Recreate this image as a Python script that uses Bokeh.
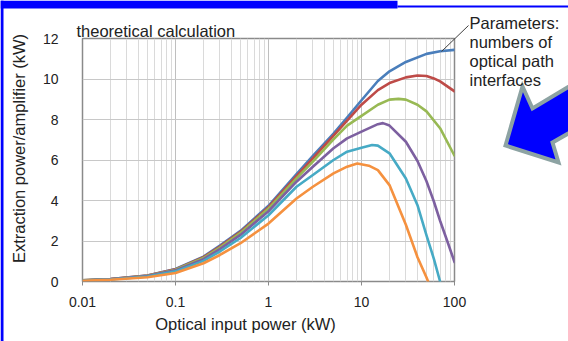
import math
from bokeh.plotting import figure
from bokeh.models import FixedTicker, CustomJSTickFormatter, Range1d, GridBox
from bokeh.core.properties import value
from bokeh.embed import file_html
from bokeh.resources import INLINE

# ---- data ----
x_ticks = [0.01, 0.1, 1, 10, 100]
y_ticks = [0, 2, 4, 6, 8, 10, 12]

blue_x = [0.01, 0.02, 0.05, 0.1, 0.2, 0.3, 0.5, 1, 2, 3, 5, 7, 10, 15, 20, 30, 50, 70, 100]
blue_y = [0.06, 0.12, 0.30, 0.62, 1.23, 1.77, 2.50, 3.74, 5.30, 6.20, 7.30, 8.10, 8.95, 9.90, 10.38, 10.84, 11.24, 11.37, 11.44]

red_x = [0.01, 0.02, 0.05, 0.1, 0.2, 0.3, 0.5, 1, 2, 3, 5, 7, 10, 15, 20, 30, 40, 50, 60, 70, 100]
red_y = [0.06, 0.12, 0.29, 0.60, 1.20, 1.73, 2.45, 3.67, 5.20, 6.08, 7.20, 7.95, 8.73, 9.45, 9.80, 10.08, 10.17, 10.15, 10.03, 9.88, 9.39]

green_x = [0.01, 0.02, 0.05, 0.1, 0.2, 0.3, 0.5, 1, 2, 3, 5, 7, 10, 15, 20, 25, 30, 40, 50, 70, 100]
green_y = [0.06, 0.11, 0.28, 0.58, 1.16, 1.68, 2.40, 3.60, 5.09, 5.92, 7.02, 7.70, 8.18, 8.73, 8.98, 9.02, 8.98, 8.73, 8.40, 7.57, 6.21]

purple_x = [0.01, 0.02, 0.05, 0.1, 0.2, 0.3, 0.5, 1, 2, 3, 5, 7, 10, 15, 17, 20, 30, 40, 50, 60, 70, 85, 100]
purple_y = [0.05, 0.11, 0.27, 0.55, 1.10, 1.60, 2.30, 3.47, 4.93, 5.67, 6.58, 7.07, 7.40, 7.77, 7.82, 7.70, 6.90, 5.95, 4.95, 3.95, 3.00, 1.90, 0.96]

cyan_x = [0.01, 0.02, 0.05, 0.1, 0.2, 0.3, 0.5, 1, 2, 3, 5, 7, 10, 13, 15, 20, 30, 40, 50, 60, 70]
cyan_y = [0.05, 0.10, 0.25, 0.50, 1.02, 1.48, 2.15, 3.27, 4.68, 5.26, 6.00, 6.41, 6.60, 6.74, 6.71, 6.33, 5.09, 3.77, 2.28, 1.12, 0.0]

orange_x = [0.01, 0.02, 0.05, 0.1, 0.2, 0.3, 0.5, 1, 2, 3, 5, 7, 9, 12, 15, 20, 30, 40, 50, 52]
orange_y = [0.04, 0.09, 0.21, 0.42, 0.90, 1.31, 1.89, 2.86, 4.10, 4.68, 5.34, 5.67, 5.83, 5.72, 5.50, 4.76, 2.80, 1.20, 0.20, 0.0]

series = [
    (blue_x, blue_y, "#4A7EBB"),
    (red_x, red_y, "#BE4B48"),
    (green_x, green_y, "#98B954"),
    (purple_x, purple_y, "#7D60A0"),
    (cyan_x, cyan_y, "#46AAC5"),
    (orange_x, orange_y, "#F5913F"),
]

title_text = "theoretical calculation"
x_title = "Optical input power (kW)"
y_title = "Extraction power/amplifier (kW)"
note_lines = ["Parameters:", "numbers of", "optical path", "interfaces"]

FONT = "Liberation Sans"
W, H = 568, 341

# ---- chart ----
p = figure(width=W, height=H, x_axis_type="log", title=None,
           x_range=Range1d(0.01, 100), y_range=Range1d(0, 12),
           output_backend="svg", toolbar_location=None,
           min_border_left=82, min_border_right=114, min_border_top=38, min_border_bottom=60)
p.frame_align = False
p.background_fill_color = "white"
p.border_fill_color = "white"
p.outline_line_color = "#8A8A8A"
p.outline_line_width = 1.5

minor = [m * d for d in [0.01, 0.1, 1, 10] for m in range(2, 10)]
xt = FixedTicker(ticks=x_ticks, minor_ticks=minor)
p.xaxis.ticker = xt
p.xgrid.ticker = xt
yt = FixedTicker(ticks=y_ticks)
p.yaxis.ticker = yt
p.ygrid.ticker = yt

p.xaxis.formatter = CustomJSTickFormatter(code="return tick.toString();")
for ax in (p.xaxis, p.yaxis):
    ax.axis_line_color = None
    ax.minor_tick_line_color = None
    ax.major_label_text_font = FONT
    ax.major_label_text_font_size = "14px"
    ax.major_label_text_color = "#222222"
p.xaxis.major_tick_line_color = "#8A8A8A"
p.xaxis.major_tick_out = 4
p.xaxis.major_tick_in = 0
p.xaxis.major_label_standoff = 11
p.yaxis.major_tick_line_color = None
p.yaxis.major_label_standoff = 18

p.xgrid.grid_line_color = "#BFBFBF"
p.xgrid.minor_grid_line_color = "#DADADA"
p.ygrid.grid_line_color = "#C8C8C8"

for xs, ys, c in series:
    p.line(xs, ys, line_color=c, line_width=2.6, line_join="round", line_cap="round")

# ---- transparent overlay in pixel coordinates for texts and slide decorations ----
q = figure(width=W, height=H, x_range=Range1d(0, W), y_range=Range1d(H, 0), title=None,
           output_backend="svg", toolbar_location=None, min_border=0,
           x_axis_location=None, y_axis_location=None)
q.frame_align = False
q.background_fill_color = None
q.border_fill_color = None
q.outline_line_color = None
q.xgrid.visible = False
q.ygrid.visible = False

# slide frame (blue band, thin line, left strip)
q.quad(left=[0, 397, 0], right=[397, W, 3], top=[0, 5, 0], bottom=[8, 7, H],
       fill_color="#0000FF", line_color=None)

# pointing arrow
q.patch([505, 522, 532, 600, 620, 552, 558], [145, 86, 108, 67, 103, 142, 162],
        fill_color="#0000FF", line_color="#8DA3A3", line_width=4, line_join="miter")

# leader line
q.segment(x0=[441], y0=[51], x1=[468], y1=[25], line_color="#404040", line_width=1)

txt = dict(text_font=value(FONT), text_font_size="16.5px", text_color="#222222",
           text_baseline="middle")
q.text(x=[76], y=[30.3], text=[title_text], text_align="left", **txt)
q.text(x=[245], y=[323.5], text=[x_title], text_align="center", **txt)
q.text(x=[18], y=[148], text=[y_title], angle=math.pi / 2, text_align="center", **txt)
q.text(x=[469] * 4, y=[22.6 + 18.8 * i for i in range(4)], text=note_lines,
       text_align="left", **txt)

layout = GridBox(children=[(p, 0, 0), (q, 0, 0)])

open("out.html", "w").write(file_html(layout, INLINE))
